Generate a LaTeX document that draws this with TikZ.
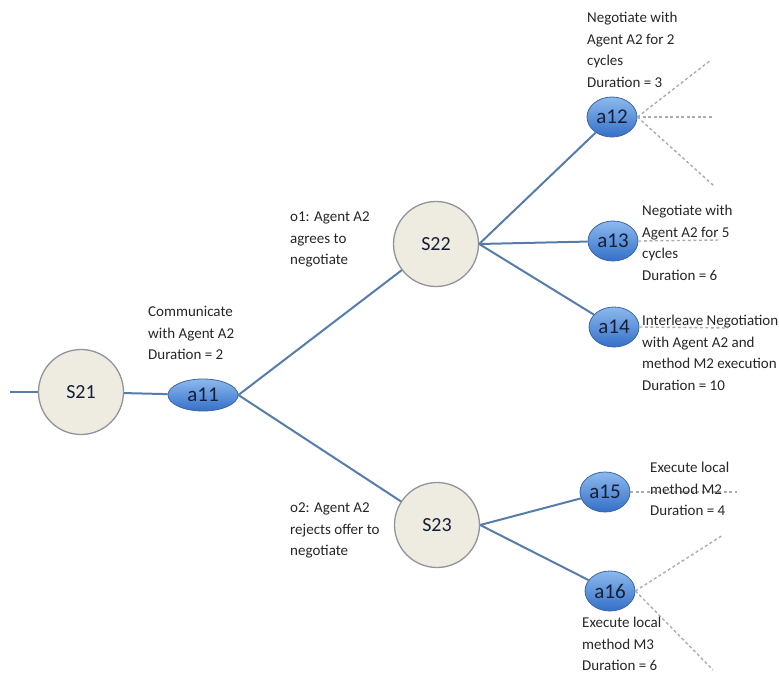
\documentclass[tikz,border=0pt]{standalone}
\usepackage{fontspec}
\setmainfont{Carlito}
\usetikzlibrary{shapes.geometric}
\definecolor{linkblue}{RGB}{86,124,170}
\definecolor{statefill}{RGB}{238,235,225}
\definecolor{stateline}{RGB}{145,148,152}
\definecolor{acttop}{RGB}{140,185,238}
\definecolor{actbottom}{RGB}{52,112,200}
\definecolor{actline}{RGB}{60,100,160}
\definecolor{labelink}{RGB}{22,30,56}
\tikzset{
  state/.style={circle,draw=stateline,fill=statefill,line width=1.3pt,minimum size=85pt,inner sep=0pt,text=labelink,font=\fontsize{20}{20}\selectfont},
  act/.style={ellipse,draw=actline,top color=acttop,bottom color=actbottom,line width=0.8pt,minimum width=50pt,minimum height=40pt,inner sep=0pt,text=labelink,font=\fontsize{21}{21}\selectfont},
  note/.style={anchor=north west,align=left,inner sep=0pt,text=black!85,font=\fontsize{15}{21.5}\selectfont},
  link/.style={linkblue,line width=2pt},
  more/.style={gray!65,line width=1.4pt,dash pattern=on 3pt off 2.5pt}
}
\begin{document}
\begin{tikzpicture}[x=1pt,y=-1pt]
  \useasboundingbox (0,0) rectangle (779,677);
  % states and actions
  \node[state] (S21) at (81,392) {S21};
  \node[state] (S22) at (436,244) {S22};
  \node[state] (S23) at (437,525) {S23};
  \node[act,minimum width=70pt,minimum height=32pt] (a11) at (203,395) {a11};
  \node[act] (a12) at (612,117) {a12};
  \node[act] (a13) at (613,241) {a13};
  \node[act] (a14) at (614,327) {a14};
  \node[act] (a15) at (605,492) {a15};
  \node[act] (a16) at (610,591) {a16};
  % loose ends
  \coordinate (in) at (10,392);
  \coordinate (a12up) at (711,60);
  \coordinate (a12mid) at (712,117);
  \coordinate (a12down) at (714,186);
  \coordinate (a13out) at (720,240);
  \coordinate (a14out) at (728,328);
  \coordinate (a15out) at (737,492);
  \coordinate (a16up) at (723,535);
  \coordinate (a16down) at (713,670);
  % tree
  \draw[link] (in) -- (S21);
  \draw[link] (S21) -- (a11);
  \draw[link] (a11.east) -- (S22);
  \draw[link] (a11.east) -- (S23);
  \draw[link] (S22.east) -- (a12);
  \draw[link] (S22.east) -- (a13);
  \draw[link] (S22.east) -- (a14);
  \draw[link] (S23.east) -- (a15);
  \draw[link] (S23.east) -- (a16);
  \draw[more] (a12.east) -- (a12up);
  \draw[more] (a12.east) -- (a12mid);
  \draw[more] (a12.east) -- (a12down);
  \draw[more] (a13.east) -- (a13out);
  \draw[more] (a14.east) -- (a14out);
  \draw[more] (a15.east) -- (a15out);
  \draw[more] (a16.east) -- (a16up);
  \draw[more] (a16.east) -- (a16down);
  % texts
  \node[note] (t11) at (148,306) {Communicate\\with Agent A2\\Duration = 2};
  \node[note] (o1) at (290,212) {o1: Agent A2\\agrees to\\negotiate};
  \node[note] (o2) at (290,503) {o2: Agent A2\\rejects offer to\\negotiate};
  \node[note] (t12) at (587,12) {Negotiate with\\Agent A2 for 2\\cycles\\Duration = 3};
  \node[note] (t13) at (642,205) {Negotiate with\\Agent A2 for 5\\cycles\\Duration = 6};
  \node[note] (t14) at (642,315) {Interleave Negotiation\\with Agent A2 and\\method M2 execution\\Duration = 10};
  \node[note] (t15) at (650,462) {Execute local\\method M2\\Duration = 4};
  \node[note] (t16) at (582,617) {Execute local\\method M3\\Duration = 6};
\end{tikzpicture}
\end{document}
